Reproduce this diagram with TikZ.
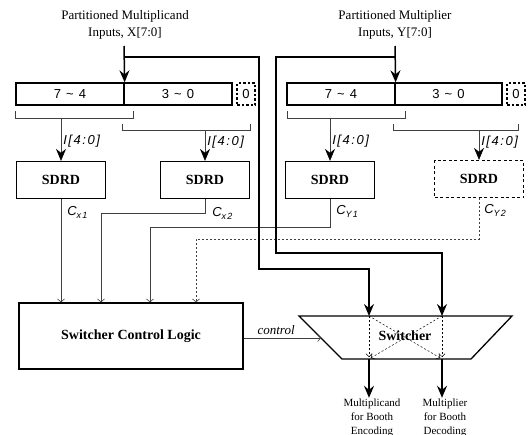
\documentclass[tikz,border=0pt]{standalone}
\usepackage{fontspec}
\setmainfont{Liberation Serif}
\newfontfamily\lblfont{Liberation Sans}[LetterSpace=12]
\usetikzlibrary{arrows.meta}

\newcommand{\csig}[1]{C\raisebox{-3pt}{\fontsize{9}{9}\selectfont#1}}

\tikzset{
  sdrd/.style={draw, line width=1.3pt, minimum width=89pt, minimum height=37pt, inner sep=0pt, font=\fontsize{14}{16}\selectfont\bfseries},
  regbox/.style={draw, line width=1.3pt, minimum height=22pt, inner sep=0pt, font=\lblfont\fontsize{13}{15}\selectfont},
  padbox/.style={regbox, dash pattern=on 2.5pt off 2pt, minimum width=18pt},
  title/.style={align=center, font=\fontsize{13}{17}\selectfont},
  wire/.style={draw=black!75, line width=0.6pt},
  feed/.style={wire, -{Stealth[length=12pt,width=10pt,inset=4pt,black]}},
  sig/.style={wire, -{Straight Barb[length=3pt,width=7pt]}},
  route/.style={line width=1.5pt},
  big/.style={route, -{Stealth[length=12pt,width=10pt,inset=4pt]}},
  swpath/.style={line width=0.5pt, dash pattern=on 2pt off 2pt, -{Straight Barb[length=3pt,width=6pt]}, shorten >=2pt},
  ilab/.style={font=\lblfont\itshape\fontsize{13}{15}\selectfont, inner sep=2pt},
  clab/.style={font=\lblfont\itshape\fontsize{13}{15}\selectfont, inner sep=0pt},
  outlab/.style={align=center, inner sep=1pt, font=\fontsize{11}{14}\selectfont},
}

\begin{document}
\begin{tikzpicture}[x=1pt, y=-1pt]
\useasboundingbox (0,0) rectangle (529,434);

% input titles
\node[title] (xin) at (125,24.5) {Partitioned Multiplicand\\Inputs, X[7:0]};
\node[title] (yin) at (395,24.5) {Partitioned Multiplier\\Inputs, Y[7:0]};

% registers
\node[regbox, minimum width=108pt] (xhi) at (70,94) {7 \textasciitilde{} 4};
\node[regbox, minimum width=108pt] (xlo) at (178,94) {3 \textasciitilde{} 0};
\node[padbox] (xz) at (246,94) {0};
\node[regbox, minimum width=108pt] (yhi) at (341,94) {7 \textasciitilde{} 4};
\node[regbox, minimum width=107pt] (ylo) at (448.5,94) {3 \textasciitilde{} 0};
\node[padbox] (yz) at (516,94) {0};

\coordinate (xtop) at (124,46);
\coordinate (ytop) at (395,46);
\draw[big] (xtop) -- (xhi.north east);
\draw[big] (ytop) -- (yhi.north east);

% brackets
\draw[wire] (15,111) -- (15,118) coordinate (bx1) -- (133,118) -- (133,111);
\draw[wire] (122,124) -- (122,130) coordinate (bx2) -- (250,130) -- (250,124);
\draw[wire] (287,111) -- (287,118) coordinate (by1) -- (405,118) -- (405,111);
\draw[wire] (393,124) -- (393,130) coordinate (by2) -- (518,130) -- (518,124);

% SDRD blocks
\node[sdrd] (sx1) at (61,180) {SDRD};
\node[sdrd] (sx2) at (205,180) {SDRD};
\node[sdrd] (sy1) at (330,180) {SDRD};
\node[sdrd, dash pattern=on 3pt off 2.5pt] (sy2) at (479,179) {SDRD};

\draw[feed] (bx1 -| sx1) -- node[ilab, right, pos=0.55] {I[4:0]} (sx1);
\draw[feed] (bx2 -| sx2) -- node[ilab, right, pos=0.4] {I[4:0]} (sx2);
\draw[feed] (by1 -| sy1) -- node[ilab, right, pos=0.55] {I[4:0]} (sy1);
\draw[feed] (by2 -| sy2) -- node[ilab, right, pos=0.4] {I[4:0]} (sy2);

% control logic
\node[draw, line width=1.3pt, minimum width=224pt, minimum height=66pt, font=\fontsize{14}{16}\selectfont\bfseries] (scl) at (131,336) {Switcher Control Logic};

\draw[sig] (sx1) -- node[clab, right, pos=0.13, xshift=6pt] {\csig{x1}} (sx1 |- scl.north);
\draw[sig] (sx2.south) -- ++(0,14) node[clab, right, xshift=7pt] {\csig{x2}} -| ([xshift=-30pt]scl.north);
\draw[sig] (sy1.south) -- node[clab, right, pos=0.43, xshift=6pt] {\csig{Y1}} ++(0,28) -| ([xshift=19pt]scl.north);
\draw[sig, dash pattern=on 2pt off 2pt] (sy2.south) -- node[clab, right, pos=0.3, xshift=5pt] {\csig{Y2}} ++(0,41) -| ([xshift=65pt]scl.north);

% switcher
\coordinate (swtl) at (299,316);
\coordinate (swtr) at (512,316);
\coordinate (swbr) at (471,359);
\coordinate (swbl) at (342,359);
\coordinate (swa) at (369,316);
\coordinate (swb) at (442,316);
\coordinate (swd) at (369,359);
\coordinate (swe) at (442,359);
\coordinate (swc) at (321,338);
\coordinate (xturn) at (259,269);
\coordinate (yturn) at (276,253);
\draw[line width=1.3pt] (swtl) -- (swtr) -- (swbr) -- (swbl) -- cycle;
\node[font=\fontsize{14}{16}\selectfont\bfseries] (sw) at (405,336) {Switcher};
\draw[swpath] (swa) -- (swd);
\draw[swpath] (swb) -- (swe);
\draw[swpath] (swa) -- (swe);
\draw[swpath] (swb) -- (swd);

% operand routing
\draw[big] (xtop |- 0,57) -| (xturn) -| (swa);
\draw[big] (ytop |- 0,57) -| (yturn) -| (swb);

\draw[sig] (scl.east |- swc) -- node[above, font=\itshape\fontsize{13}{15}\selectfont, pos=0.42] {control} (swc);

% outputs
\node[outlab] (o1) at (372,418) {Multiplicand\\for Booth\\Encoding};
\node[outlab] (o2) at (445,418) {Multiplier\\for Booth\\Decoding};
\draw[big] (swd) -- (swd |- o1.north);
\draw[big] (swe) -- (swe |- o2.north);
\end{tikzpicture}
\end{document}
